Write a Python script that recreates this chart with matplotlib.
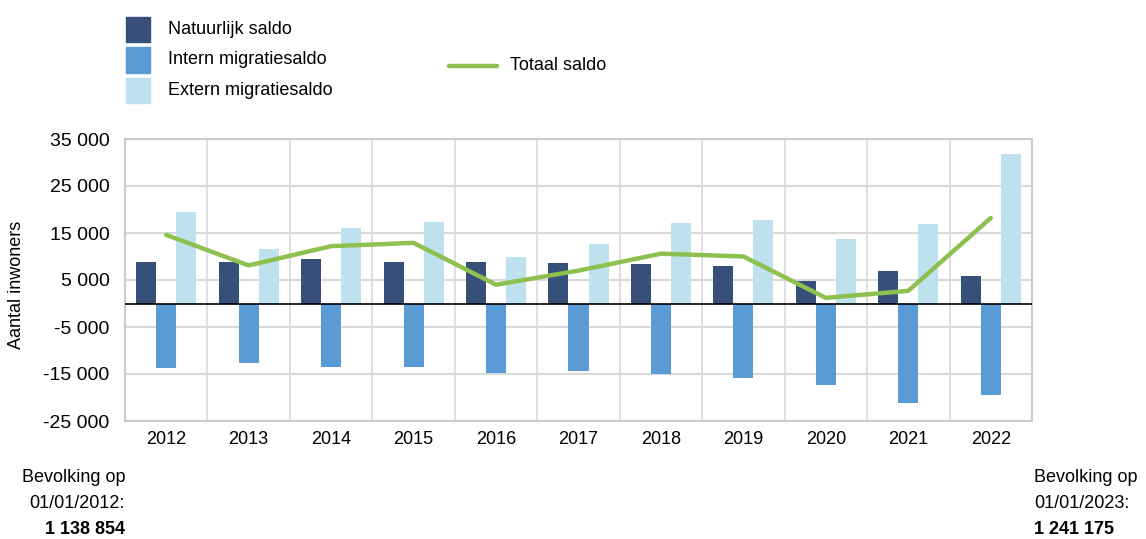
import matplotlib
matplotlib.use('Agg')
import matplotlib.pyplot as plt
import numpy as np
from matplotlib.patches import Rectangle
from matplotlib.lines import Line2D
from matplotlib.ticker import FuncFormatter

# data
years = ['2012', '2013', '2014', '2015', '2016', '2017',
         '2018', '2019', '2020', '2021', '2022']
natuurlijk = [8800, 8800, 9400, 8800, 8800, 8600, 8350, 7900, 4750, 6850, 5800]
intern = [-13700, -12700, -13500, -13500, -14800, -14300,
          -15000, -15850, -17300, -21200, -19500]
extern = [19400, 11700, 16000, 17300, 9800, 12600, 17050, 17700, 13650, 16850, 31900]
totaal = [14600, 8100, 12200, 12900, 4000, 7000, 10600, 10000, 1200, 2700, 18200]

series_labels = ['Natuurlijk saldo', 'Intern migratiesaldo', 'Extern migratiesaldo']
line_label = 'Totaal saldo'
pop_start = ['Bevolking op', '01/01/2012:', '1 138 854']
pop_end = ['Bevolking op', '01/01/2023:', '1 241 175']

C_NAT = '#36507a'
C_INT = '#5b9bd5'
C_EXT = '#bde2ed'
C_TOT = '#8dc04f'
C_GRID = '#d9d9d9'

plt.rcParams['font.family'] = ['Liberation Sans', 'DejaVu Sans']
plt.rcParams['font.size'] = 13

W, H = 1146, 539
fig = plt.figure(figsize=(W / 100, H / 100), dpi=100)
ax = fig.add_axes([125 / W, 1 - 421 / H, 907 / W, 282 / H])

x = np.arange(len(years))
w = 0.243
ax.bar(x - w, natuurlijk, w, color=C_NAT, zorder=3)
ax.bar(x, intern, w, color=C_INT, zorder=3)
ax.bar(x + w, extern, w, color=C_EXT, zorder=3)
ax.plot(x, totaal, color=C_TOT, lw=3.2, zorder=5, solid_capstyle='round')

ax.set_xlim(-0.5, len(years) - 0.5)
ax.set_ylim(-25000, 35000)
yt = np.arange(-25000, 35001, 10000)
ax.set_yticks(yt)
ax.yaxis.set_major_formatter(FuncFormatter(lambda v, p: f'{v:,.0f}'.replace(',', ' ')))
ax.set_xticks(x)
ax.set_xticklabels(years)
ax.tick_params(axis='both', length=0)
ax.tick_params(axis='x', pad=7, labelsize=13)
ax.tick_params(axis='y', pad=11, labelsize=14)

for v in yt:
    ax.axhline(v, color=C_GRID, lw=1.5, zorder=1)
for b in np.arange(0.5, len(years) - 1, 1):
    ax.axvline(b, color=C_GRID, lw=1.2, zorder=1)
ax.axhline(0, color='black', lw=1.2, zorder=4)
for s in ax.spines.values():
    s.set_color('#cccccc')
    s.set_linewidth(1.5)

fig.text(17 / W, 1 - 285 / H, 'Aantal inwoners', rotation=90,
         ha='center', va='center', fontsize=13)

# legend drawn by hand in figure pixels
for i, (lab, col) in enumerate(zip(series_labels, [C_NAT, C_INT, C_EXT])):
    top = 17 + i * 30.5
    fig.add_artist(Rectangle((126 / W, 1 - (top + 25) / H), 24 / W, 25 / H,
                             transform=fig.transFigure, color=col))
    fig.text(168 / W, 1 - (top + 12.5) / H, lab, ha='left', va='center', fontsize=13)
fig.add_artist(Line2D([449 / W, 497 / W], [1 - 66 / H, 1 - 66 / H],
                      transform=fig.transFigure, color=C_TOT, lw=3.2,
                      solid_capstyle='round'))
fig.text(510 / W, 1 - 66 / H, line_label, ha='left', va='center', fontsize=13)

ys = [478, 503, 529]
for i, t in enumerate(pop_start):
    fig.text(125 / W, 1 - ys[i] / H, t, ha='right', va='center',
             fontsize=13, fontweight='bold' if i == 2 else 'normal')
for i, t in enumerate(pop_end):
    fig.text(1034 / W, 1 - ys[i] / H, t, ha='left', va='center',
             fontsize=13, fontweight='bold' if i == 2 else 'normal')

fig.savefig('out.png', dpi=100)
